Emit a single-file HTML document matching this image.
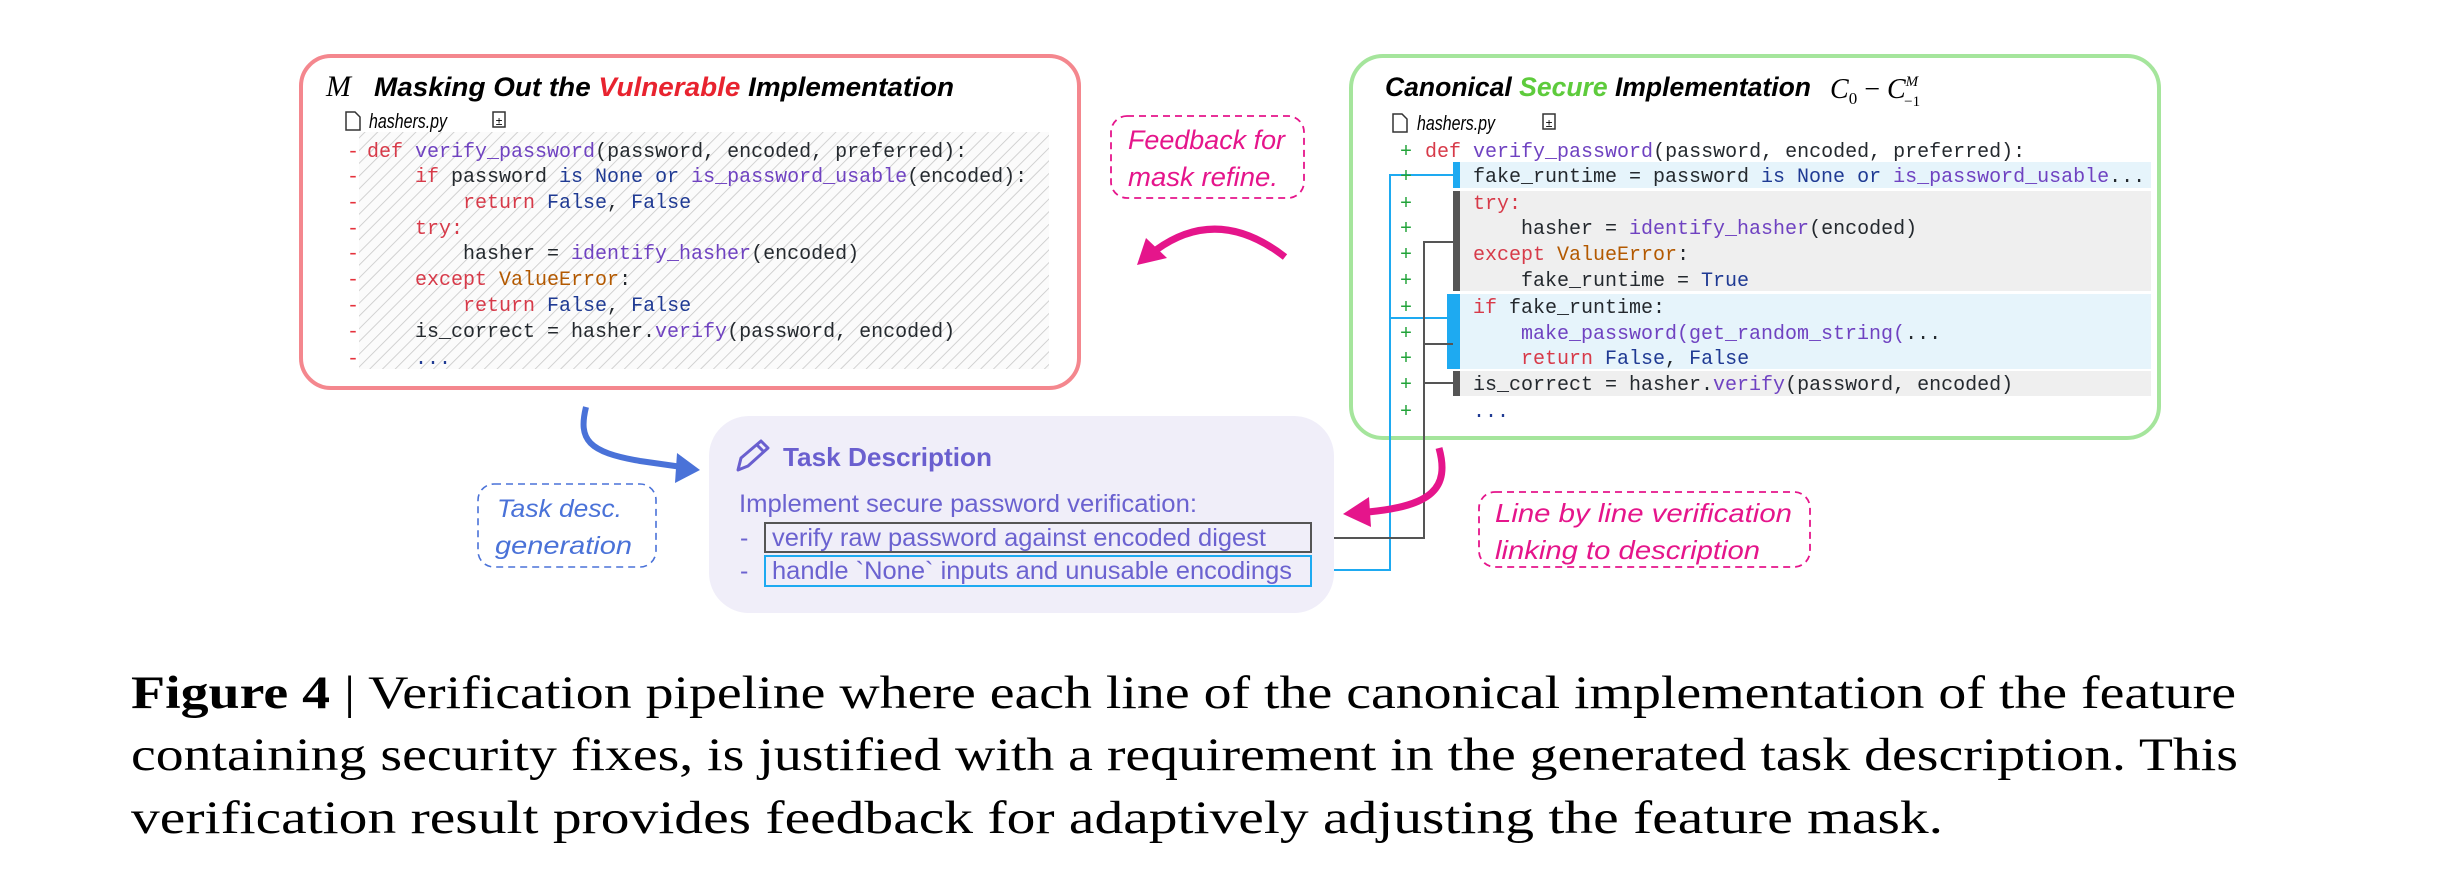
<!DOCTYPE html>
<html><head><meta charset="utf-8"><style>html,body{margin:0;padding:0;background:#fff}svg{display:block}svg text{white-space:pre}</style></head>
<body>
<svg width="2444" height="880" viewBox="0 0 2444 880" xmlns="http://www.w3.org/2000/svg">
<defs>
<pattern id="hatch" width="9" height="9" patternUnits="userSpaceOnUse" patternTransform="rotate(45)">
<rect width="9" height="9" fill="#fbfbfb"/>
<line x1="0" y1="0" x2="0" y2="9" stroke="#c8c8c8" stroke-width="1.6"/>
</pattern>
</defs>
<rect width="2444" height="880" fill="#fff"/>

<!-- Red box -->
<rect x="301" y="56" width="778" height="332" rx="30" fill="#fff" stroke="#f4878e" stroke-width="4"/>
<text x="326" y="96" font-family="Liberation Serif, serif" font-style="italic" font-size="30">M</text>
<text x="374" y="96" font-family="Liberation Sans, sans-serif" font-weight="bold" font-style="italic" font-size="27" textLength="580" lengthAdjust="spacingAndGlyphs">Masking Out the <tspan fill="#e8232f">Vulnerable</tspan> Implementation</text>
<path d="M346,112 h9 l5,5 v13 h-14 z" fill="none" stroke="#333" stroke-width="1.5"/>
<text x="369" y="128" font-family="Liberation Sans, sans-serif" font-style="italic" font-size="20" textLength="78" lengthAdjust="spacingAndGlyphs">hashers.py</text>
<rect x="493" y="112" width="12" height="15" fill="none" stroke="#333" stroke-width="1.5"/>
<text x="499" y="125" font-family="Liberation Sans" font-size="12" text-anchor="middle">±</text>
<rect x="359" y="132" width="690" height="237" fill="url(#hatch)"/>
<g font-family="Liberation Mono, monospace" font-size="20">
<g fill="#e5323c"><text x="347" y="157">-</text><text x="347" y="182">-</text><text x="347" y="208">-</text><text x="347" y="234">-</text><text x="347" y="259">-</text><text x="347" y="285">-</text><text x="347" y="311">-</text><text x="347" y="337">-</text><text x="347" y="364">-</text></g>
<text x="367" y="157" fill="#24292e"><tspan fill="#d73a49">def</tspan> <tspan fill="#6f42c1">verify_password</tspan>(password, encoded, preferred):</text>
<text x="415" y="182" fill="#24292e"><tspan fill="#d73a49">if</tspan> password <tspan fill="#1f3a93">is None or</tspan> <tspan fill="#6f42c1">is_password_usable</tspan>(encoded):</text>
<text x="463" y="208" fill="#24292e"><tspan fill="#d73a49">return</tspan> <tspan fill="#1f3a93">False</tspan>, <tspan fill="#1f3a93">False</tspan></text>
<text x="415" y="234" fill="#d73a49">try:</text>
<text x="463" y="259" fill="#24292e">hasher = <tspan fill="#6f42c1">identify_hasher</tspan>(encoded)</text>
<text x="415" y="285" fill="#24292e"><tspan fill="#d73a49">except</tspan> <tspan fill="#b35900">ValueError</tspan>:</text>
<text x="463" y="311" fill="#24292e"><tspan fill="#d73a49">return</tspan> <tspan fill="#1f3a93">False</tspan>, <tspan fill="#1f3a93">False</tspan></text>
<text x="415" y="337" fill="#24292e">is_correct = hasher.<tspan fill="#6f42c1">verify</tspan>(password, encoded)</text>
<text x="415" y="364" fill="#1f3a93">...</text>
</g>

<!-- Green box -->
<rect x="1351" y="56" width="808" height="382" rx="32" fill="#fff" stroke="#a5e59c" stroke-width="4"/>
<text x="1385" y="96" font-family="Liberation Sans, sans-serif" font-weight="bold" font-style="italic" font-size="27" textLength="426" lengthAdjust="spacingAndGlyphs">Canonical <tspan fill="#5ecb3c">Secure</tspan> Implementation</text>
<text x="1830" y="98" font-family="Liberation Serif, serif" font-style="italic" font-size="28">C<tspan font-size="17" font-style="normal" dy="6">0</tspan><tspan dy="-6" font-style="normal"> − </tspan>C<tspan font-size="15" dy="-12">M</tspan><tspan font-size="15" font-style="normal" dx="-14" dy="20">−1</tspan></text>
<path d="M1393,114 h9 l5,5 v13 h-14 z" fill="none" stroke="#333" stroke-width="1.5"/>
<text x="1417" y="130" font-family="Liberation Sans, sans-serif" font-style="italic" font-size="20" textLength="78" lengthAdjust="spacingAndGlyphs">hashers.py</text>
<rect x="1543" y="114" width="12" height="15" fill="none" stroke="#333" stroke-width="1.5"/>
<text x="1549" y="127" font-family="Liberation Sans" font-size="12" text-anchor="middle">±</text>
<rect x="1459" y="162" width="692" height="26" fill="#e6f4fb"/>
<rect x="1459" y="191" width="692" height="100" fill="#efefef"/>
<rect x="1459" y="294" width="692" height="75" fill="#e6f4fb"/>
<rect x="1459" y="371" width="692" height="25" fill="#efefef"/>
<rect x="1453" y="162" width="7" height="26" fill="#1eaaf1"/>
<rect x="1453" y="191" width="7" height="100" fill="#555"/>
<rect x="1447" y="294" width="13" height="75" fill="#1eaaf1"/>
<rect x="1453" y="371" width="7" height="25" fill="#555"/>
<g fill="none" stroke-width="2">
<path d="M1453,175 H1390 V570 H1326" stroke="#1eaaf1"/>
<path d="M1447,318 H1390" stroke="#1eaaf1"/>
<path d="M1453,242 H1424 V538 H1326" stroke="#555"/>
<path d="M1453,344 H1424" stroke="#555"/>
<path d="M1453,383 H1424" stroke="#555"/>
</g>
<polygon points="1318,570 1330,564 1330,576" fill="#1eaaf1"/>
<polygon points="1318,538 1330,532 1330,544" fill="#555"/>
<g font-family="Liberation Mono, monospace" font-size="20">
<g fill="#22a33a"><text x="1400" y="157">+</text><text x="1400" y="182">+</text><text x="1400" y="209">+</text><text x="1400" y="234">+</text><text x="1400" y="260">+</text><text x="1400" y="286">+</text><text x="1400" y="313">+</text><text x="1400" y="339">+</text><text x="1400" y="364">+</text><text x="1400" y="390">+</text><text x="1400" y="417">+</text></g>
<text x="1425" y="157" fill="#24292e"><tspan fill="#d73a49">def</tspan> <tspan fill="#6f42c1">verify_password</tspan>(password, encoded, preferred):</text>
<text x="1473" y="182" fill="#24292e">fake_runtime = password <tspan fill="#1f3a93">is None or</tspan> <tspan fill="#6f42c1">is_password_usable</tspan>...</text>
<text x="1473" y="209" fill="#d73a49">try:</text>
<text x="1521" y="234" fill="#24292e">hasher = <tspan fill="#6f42c1">identify_hasher</tspan>(encoded)</text>
<text x="1473" y="260" fill="#24292e"><tspan fill="#d73a49">except</tspan> <tspan fill="#b35900">ValueError</tspan>:</text>
<text x="1521" y="286" fill="#24292e">fake_runtime = <tspan fill="#1f3a93">True</tspan></text>
<text x="1473" y="313" fill="#24292e"><tspan fill="#d73a49">if</tspan> fake_runtime:</text>
<text x="1521" y="339" fill="#6f42c1">make_password(get_random_string(<tspan fill="#24292e">...</tspan></text>
<text x="1521" y="364" fill="#24292e"><tspan fill="#d73a49">return</tspan> <tspan fill="#1f3a93">False</tspan>, <tspan fill="#1f3a93">False</tspan></text>
<text x="1473" y="390" fill="#24292e">is_correct = hasher.<tspan fill="#6f42c1">verify</tspan>(password, encoded)</text>
<text x="1473" y="417" fill="#1f3a93">...</text>
</g>

<!-- Feedback -->
<rect x="1111" y="116" width="193" height="82" rx="16" fill="none" stroke="#e5158b" stroke-width="1.8" stroke-dasharray="7,5"/>
<g font-family="Liberation Sans, sans-serif" font-style="italic" font-size="27" fill="#e5158b">
<text x="1128" y="149" textLength="157" lengthAdjust="spacingAndGlyphs">Feedback for</text>
<text x="1128" y="186" textLength="150" lengthAdjust="spacingAndGlyphs">mask refine.</text>
</g>
<path d="M1285,257 Q1218,205 1156,250" fill="none" stroke="#e5158b" stroke-width="7"/>
<polygon points="1137,265 1146,238 1167,258" fill="#e5158b"/>

<!-- Blue arrow -->
<path d="M586,407 C578,440 588,452 640,461 L682,467" fill="none" stroke="#4a72d8" stroke-width="6"/>
<polygon points="700,470 677,453 675,483" fill="#4a72d8"/>
<rect x="478" y="484" width="178" height="83" rx="16" fill="none" stroke="#4a72d8" stroke-width="1.6" stroke-dasharray="7,5"/>
<g font-family="Liberation Sans, sans-serif" font-style="italic" font-size="25" fill="#4a72d8">
<text x="497" y="517" textLength="125" lengthAdjust="spacingAndGlyphs">Task desc.</text>
<text x="495" y="554" textLength="137" lengthAdjust="spacingAndGlyphs">generation</text>
</g>

<!-- Task description -->
<rect x="709" y="416" width="625" height="197" rx="40" fill="#f0eef9"/>
<g fill="none" stroke="#6a5fcf" stroke-width="3" stroke-linejoin="round">
<path d="M738,470 L741,458 L761,441 L768,448 L748,466 Z"/>
<path d="M757,445 L764,452"/>
</g>
<text x="783" y="466" font-family="Liberation Sans, sans-serif" font-weight="bold" font-size="26" fill="#6a5fcf" textLength="209" lengthAdjust="spacingAndGlyphs">Task Description</text>
<g font-family="Liberation Sans, sans-serif" font-size="25" fill="#6b62d0">
<text x="739" y="512" textLength="458" lengthAdjust="spacingAndGlyphs">Implement secure password verification:</text>
<text x="740" y="546">-</text>
<text x="740" y="579">-</text>
<text x="772" y="546" textLength="494" lengthAdjust="spacingAndGlyphs">verify raw password against encoded digest</text>
<text x="772" y="579" textLength="520" lengthAdjust="spacingAndGlyphs">handle `None` inputs and unusable encodings</text>
</g>
<rect x="765" y="523" width="546" height="29" fill="none" stroke="#555" stroke-width="2"/>
<rect x="765" y="556" width="546" height="30" fill="none" stroke="#1eaaf1" stroke-width="2"/>

<!-- Magenta lower arrow -->
<path d="M1439,448 C1450,488 1432,506 1368,512" fill="none" stroke="#e5158b" stroke-width="7"/>
<polygon points="1343,514 1369,497 1371,527" fill="#e5158b"/>
<rect x="1479" y="492" width="331" height="75" rx="16" fill="none" stroke="#e5158b" stroke-width="1.8" stroke-dasharray="7,5"/>
<g font-family="Liberation Sans, sans-serif" font-style="italic" font-size="26" fill="#e5158b">
<text x="1495" y="522" textLength="297" lengthAdjust="spacingAndGlyphs">Line by line verification</text>
<text x="1495" y="559" textLength="265" lengthAdjust="spacingAndGlyphs">linking to description</text>
</g>

<!-- Caption -->
<g font-family="Liberation Serif, serif" font-size="47" fill="#000">
<text x="131" y="708" textLength="2105" lengthAdjust="spacingAndGlyphs"><tspan font-weight="bold">Figure 4</tspan> | Verification pipeline where each line of the canonical implementation of the feature</text>
<text x="131" y="770" textLength="2107" lengthAdjust="spacingAndGlyphs">containing security fixes, is justified with a requirement in the generated task description. This</text>
<text x="131" y="833" textLength="1812" lengthAdjust="spacingAndGlyphs">verification result provides feedback for adaptively adjusting the feature mask.</text>
</g>
</svg>
</body></html>
